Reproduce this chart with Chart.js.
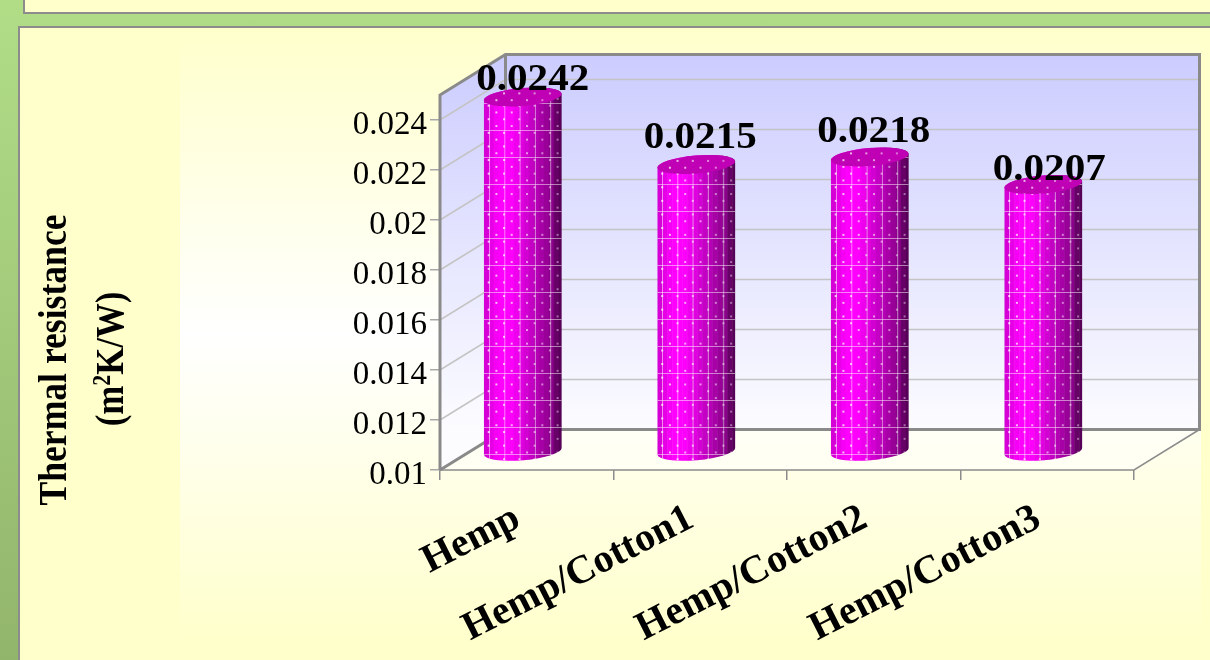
<!DOCTYPE html>
<html>
<head>
<meta charset="utf-8">
<title>Thermal resistance</title>
<script src="https://cdn.jsdelivr.net/npm/chart.js@4"></script>
<style>
  html, body { margin: 0; padding: 0; width: 1210px; height: 660px; overflow: hidden; }
  body { background: linear-gradient(to bottom, #b1dd87, #92b56c); position: relative; }
  .panel { position: absolute; background: #ffffcc; border: 2px solid #8c8c8c; box-sizing: border-box; }
  #topPanel { left: 23px; top: -20px; width: 1300px; height: 34px; }
  #mainPanel { left: 18px; top: 26px; width: 1300px; height: 700px; }
  #chartWrap { position: absolute; left: 0; top: 0; width: 1210px; height: 660px; }
</style>
</head>
<body>
<div class="panel" id="topPanel"></div>
<div class="panel" id="mainPanel"></div>
<div id="chartWrap"><canvas id="resistanceChart" width="1210" height="660"></canvas></div>
<script>
// Chart data
const categories = ["Hemp", "Hemp/Cotton1", "Hemp/Cotton2", "Hemp/Cotton3"];
const resistance = [0.0242, 0.0215, 0.0218, 0.0207];
const valueLabels = ["0.0242", "0.0215", "0.0218", "0.0207"];
const yTicks = [0.01, 0.012, 0.014, 0.016, 0.018, 0.02, 0.022, 0.024];
const yTickLabels = ["0.01", "0.012", "0.014", "0.016", "0.018", "0.02", "0.022", "0.024"];
const yTitle = "Thermal resistance";
const yUnitParts = ["(m", "2", "K/W)"];

// Box depth of the pseudo 3D plot
const depthX = 65.5;
const depthY = 40.5;
const serif = "'Liberation Serif', serif";

// Shade of a cylinder at fraction t across its width
function cylinderShade(t) {
  const stops = [[0, 205], [0.1, 230], [0.2, 255], [0.34, 255], [0.5, 220], [0.72, 170], [0.9, 130], [0.92, 105], [1, 85]];
  for (let i = 1; i < stops.length; i++) {
    if (t <= stops[i][0]) {
      const a = stops[i - 1];
      const b = stops[i];
      return a[1] + (b[1] - a[1]) * (t - a[0]) / (b[0] - a[0]);
    }
  }
  return 85;
}

// Staggered dots, dimmer towards the shaded side
function drawDots(c, left, right, top, bottom) {
  let row = 0;
  for (let y = bottom; y > top; y -= 6.8) {
    const start = left + (row % 2 === 0 ? 5 : 12.7);
    for (let x = start; x < right; x += 15.3) {
      const fade = 0.8 - 0.4 * (x - left) / (right - left);
      c.fillStyle = "rgba(255,255,255," + fade + ")";
      c.fillRect(x - 1, y - 1, 2, 2);
    }
    row++;
  }
}

function drawCylinder(c, bar) {
  const cx = bar.x - 4;
  const rx = bar.width / 2;
  const ry = 9;
  const tilt = -0.085;
  const topY = bar.y - 18;
  const bottomY = bar.base - 18;
  const left = cx - rx;
  const right = cx + rx;

  // side of the cylinder, banded from light to dark
  c.save();
  c.beginPath();
  c.ellipse(cx, bottomY, rx, ry, tilt, 0, Math.PI);
  c.ellipse(cx, topY, rx, ry, tilt, Math.PI, Math.PI * 2);
  c.closePath();
  c.clip();
  const bandWidth = 5;
  for (let x = left; x < right; x += bandWidth) {
    const v = Math.round(cylinderShade((x - left + bandWidth / 2) / bar.width));
    c.fillStyle = "rgb(" + v + ",0," + v + ")";
    c.fillRect(x, topY - 12, bandWidth + 0.5, bottomY - topY + 30);
  }

  // thin lattice over the side
  c.strokeStyle = "rgba(255,255,255,0.5)";
  c.lineWidth = 1;
  c.beginPath();
  for (let x = Math.round(left + 5) + 0.5; x < right; x += 15.3) {
    c.moveTo(x, topY - 10);
    c.lineTo(x, bottomY + 12);
  }
  for (let y = Math.round(bottomY + 3) + 0.5; y > topY - 10; y -= 27) {
    c.moveTo(left, y);
    c.lineTo(right, y);
  }
  c.stroke();
  drawDots(c, left, right, topY - 10, bottomY + 8);
  c.restore();

  // cap
  c.save();
  c.beginPath();
  c.ellipse(cx, topY, rx, ry, tilt, 0, Math.PI * 2);
  c.fillStyle = "#c000b4";
  c.fill();
  c.clip();
  drawDots(c, left, right, topY - 10, topY + 10);
  c.restore();
}

function drawStretchedText(c, text, x, y, font, scaleX, rotation) {
  c.save();
  c.translate(x, y);
  if (rotation) c.rotate(rotation);
  c.scale(scaleX, 1);
  c.font = font;
  c.fillStyle = "#000";
  c.textAlign = "center";
  c.textBaseline = "alphabetic";
  c.fillText(text, 0, 0);
  c.restore();
}

// Unit line of the axis title, with a raised exponent
function drawUnit(c, x, y, scaleX) {
  const mainFont = "bold 40px " + serif;
  const supFont = "bold 25px " + serif;
  c.save();
  c.translate(x, y);
  c.rotate(-Math.PI / 2);
  c.scale(scaleX, 1);
  c.fillStyle = "#000";
  c.textAlign = "left";
  c.textBaseline = "alphabetic";
  c.font = mainFont;
  const w0 = c.measureText(yUnitParts[0]).width;
  const w2 = c.measureText(yUnitParts[2]).width;
  c.font = supFont;
  const w1 = c.measureText(yUnitParts[1]).width;
  let pos = -(w0 + w1 + w2) / 2;
  c.font = mainFont;
  c.fillText(yUnitParts[0], pos, 0);
  pos += w0;
  c.font = supFont;
  c.fillText(yUnitParts[1], pos, -13);
  pos += w1;
  c.font = mainFont;
  c.fillText(yUnitParts[2], pos, 0);
  c.restore();
}

const plotBox = {
  id: "plotBox",
  beforeDraw(chart) {
    const c = chart.ctx;
    const glow = c.createLinearGradient(0, 30, 0, 640);
    glow.addColorStop(0, "#ffffcc");
    glow.addColorStop(0.5, "#ffffff");
    glow.addColorStop(1, "#ffffcc");
    c.fillStyle = glow;
    c.fillRect(180, 28, 1021, 632);
  },
  beforeDatasetsDraw(chart) {
    const c = chart.ctx;
    const { left, right, top, bottom } = chart.chartArea;
    const yScale = chart.scales.y;

    const wall = c.createLinearGradient(0, top - depthY, 0, bottom - depthY);
    wall.addColorStop(0, "#ccccff");
    wall.addColorStop(1, "#fcfcff");

    // back wall and side wall
    c.fillStyle = wall;
    c.fillRect(left + depthX, top - depthY, right - left, bottom - top);
    c.beginPath();
    c.moveTo(left, top);
    c.lineTo(left + depthX, top - depthY);
    c.lineTo(left + depthX, bottom - depthY);
    c.lineTo(left, bottom);
    c.closePath();
    c.fill();

    // floor
    c.beginPath();
    c.moveTo(left, bottom);
    c.lineTo(right, bottom);
    c.lineTo(right + depthX, bottom - depthY);
    c.lineTo(left + depthX, bottom - depthY);
    c.closePath();
    c.fillStyle = "rgba(255,255,255,0.45)";
    c.fill();

    // grid lines run along the side wall and across the back
    c.strokeStyle = "#c4c4c4";
    c.lineWidth = 1.5;
    yTicks.forEach(v => {
      if (v === yTicks[0]) return;
      const y = yScale.getPixelForValue(v);
      c.beginPath();
      c.moveTo(left, y);
      c.lineTo(left + depthX, y - depthY);
      c.lineTo(right + depthX, y - depthY);
      c.stroke();
    });

    // thin front floor edges
    c.strokeStyle = "#8c8c8c";
    c.lineWidth = 1.5;
    c.beginPath();
    c.moveTo(left, bottom);
    c.lineTo(right, bottom);
    c.lineTo(right + depthX, bottom - depthY);
    c.stroke();

    // heavy box outline
    c.lineWidth = 3;
    c.strokeStyle = "#8a8a8a";
    c.beginPath();
    c.moveTo(left, bottom);
    c.lineTo(left, top);
    c.lineTo(left + depthX, top - depthY);
    c.lineTo(right + depthX, top - depthY);
    c.lineTo(right + depthX, bottom - depthY);
    c.lineTo(left + depthX, bottom - depthY);
    c.lineTo(left + depthX, top - depthY);
    c.moveTo(left + depthX, bottom - depthY);
    c.lineTo(left, bottom);
    c.stroke();
  },
  beforeDatasetDraw(chart, args) {
    // cylinders replace the flat bars
    const c = chart.ctx;
    args.meta.data.forEach(bar => drawCylinder(c, bar));
    return false;
  },
  afterDatasetsDraw(chart) {
    const c = chart.ctx;
    const meta = chart.getDatasetMeta(0);
    const nudgeX = [6, 0, 0, 2];
    const nudgeY = [-25, -35, -33, -23];
    meta.data.forEach((bar, i) => {
      drawStretchedText(c, valueLabels[i], bar.x + nudgeX[i], bar.y + nudgeY[i], "bold 37px " + serif, 1.11, 0);
    });
    drawStretchedText(c, yTitle, 66, 360, "bold 40px " + serif, 0.89, -Math.PI / 2);
    drawUnit(c, 123, 359, 0.87);
  }
};

const ctx = document.getElementById("resistanceChart");
new Chart(ctx, {
  type: "bar",
  plugins: [plotBox],
  data: {
    labels: categories,
    datasets: [{
      label: "Thermal resistance",
      data: resistance,
      base: yTicks[0],
      backgroundColor: "#ff00ff",
      categoryPercentage: 1,
      barPercentage: 0.45
    }]
  },
  options: {
    responsive: false,
    animation: false,
    layout: { padding: { top: 95, right: 76, left: 0, bottom: 0 } },
    plugins: {
      legend: { display: false },
      tooltip: { enabled: false }
    },
    scales: {
      x: {
        afterFit(scale) { scale.height = 190; },
        grid: { offset: true, drawOnChartArea: false, color: "#8c8c8c", tickLength: 10, lineWidth: 1.5 },
        border: { display: false },
        ticks: {
          color: "#000",
          font: { family: serif, weight: "bold", size: 40 },
          minRotation: 27,
          maxRotation: 27,
          autoSkip: false,
          padding: 15,
          labelOffset: -9
        }
      },
      y: {
        min: 0.01,
        max: 0.025,
        afterFit(scale) { scale.width = 440; },
        afterBuildTicks(scale) { scale.ticks = yTicks.map(v => ({ value: v })); },
        grid: { drawOnChartArea: false, color: "#a8a8a8", tickLength: 10, lineWidth: 1.5 },
        border: { display: false },
        ticks: {
          color: "#000",
          font: { family: serif, size: 33 },
          padding: 3,
          labelOffset: 5,
          callback: (value, index) => yTickLabels[index]
        }
      }
    }
  }
});
</script>
</body>
</html>
